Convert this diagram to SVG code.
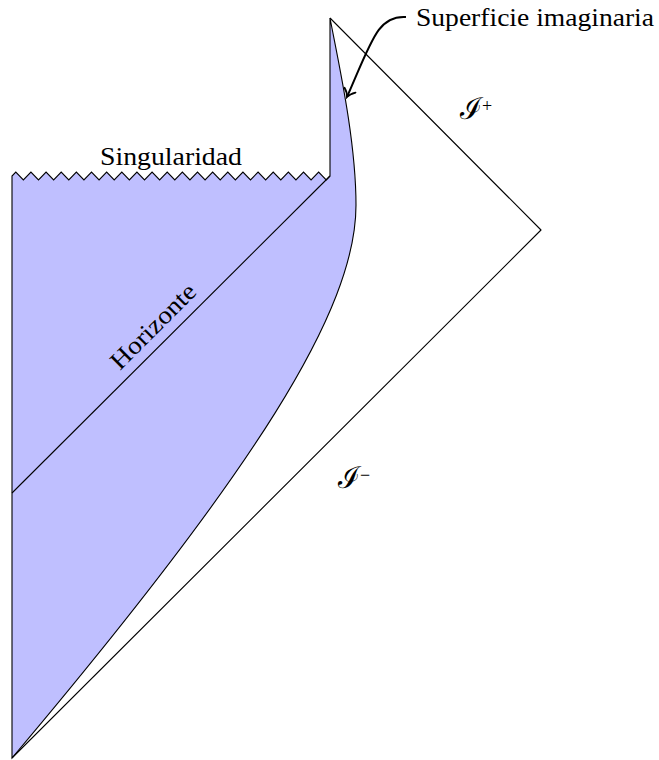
<svg xmlns="http://www.w3.org/2000/svg" width="659" height="760" viewBox="0 0 659 760">
<style>
.ln{fill:none;stroke:#000;stroke-width:1.1;stroke-linejoin:round}
.reg{fill:#bfbfff;stroke:#000;stroke-width:1.1;stroke-linejoin:miter}
.lbl{font-family:"Liberation Serif","Times New Roman",serif;font-size:25px;fill:#000}
.scr{font-family:"DejaVu Serif",serif;font-size:30px;fill:#000}
.sup{font-family:"Liberation Serif",serif;font-size:18px;fill:#000}
</style>
<defs>
<marker id="to" viewBox="-10 -7 12 14" markerWidth="12" markerHeight="14" refX="0" refY="0" orient="auto" markerUnits="userSpaceOnUse">
<path d="M-7.5,-6 C-4.5,-2 -1.5,-0.5 0,0 C-1.5,0.5 -4.5,2 -7.5,6" fill="none" stroke="#000" stroke-width="1.8" stroke-linecap="round"/>
</marker>
</defs>
<g id="region">
<path class="reg" d="M12,758 L12,176 L15.79,172 L23.36,180 L30.93,172 L38.50,180 L46.07,172 L53.64,180 L61.21,172 L68.79,180 L76.36,172 L83.93,180 L91.50,172 L99.07,180 L106.64,172 L114.21,180 L121.79,172 L129.36,180 L136.93,172 L144.50,180 L152.07,172 L159.64,180 L167.21,172 L174.79,180 L182.36,172 L189.93,180 L197.50,172 L205.07,180 L212.64,172 L220.21,180 L227.79,172 L235.36,180 L242.93,172 L250.50,180 L258.07,172 L265.64,180 L273.21,172 L280.79,180 L288.36,172 L295.93,180 L303.50,172 L311.07,180 L318.64,172 L326.21,180 L330,176 L330,18 C338,60 356,140 356,205 C356,310 255,470 12,758 Z"/>
</g>
<g id="connectors">
<path id="scri" class="ln" d="M330,18 L541,230 L12,758"/>
<path id="horizon" class="ln" d="M12,493 L330,176"/>
<path id="arrow" d="M406,17 C378,15 372,40 347,97" fill="none" stroke="#000" stroke-width="2" marker-end="url(#to)"/>
</g>
<g id="labels">
<text class="lbl" x="100" y="165" textLength="142" lengthAdjust="spacingAndGlyphs">Singularidad</text>
<text class="lbl" x="416" y="26" textLength="238" lengthAdjust="spacingAndGlyphs">Superficie imaginaria</text>
<text class="lbl" x="159" y="332" text-anchor="middle" transform="rotate(-45 159 332)" textLength="110" lengthAdjust="spacingAndGlyphs">Horizonte</text>
<g id="scri-plus"><text class="scr" x="460" y="119">ℐ</text><text class="sup" x="482" y="112">+</text></g>
<g id="scri-minus"><text class="scr" x="338" y="488">ℐ</text><text class="sup" x="360" y="481">−</text></g>
</g>
</svg>
